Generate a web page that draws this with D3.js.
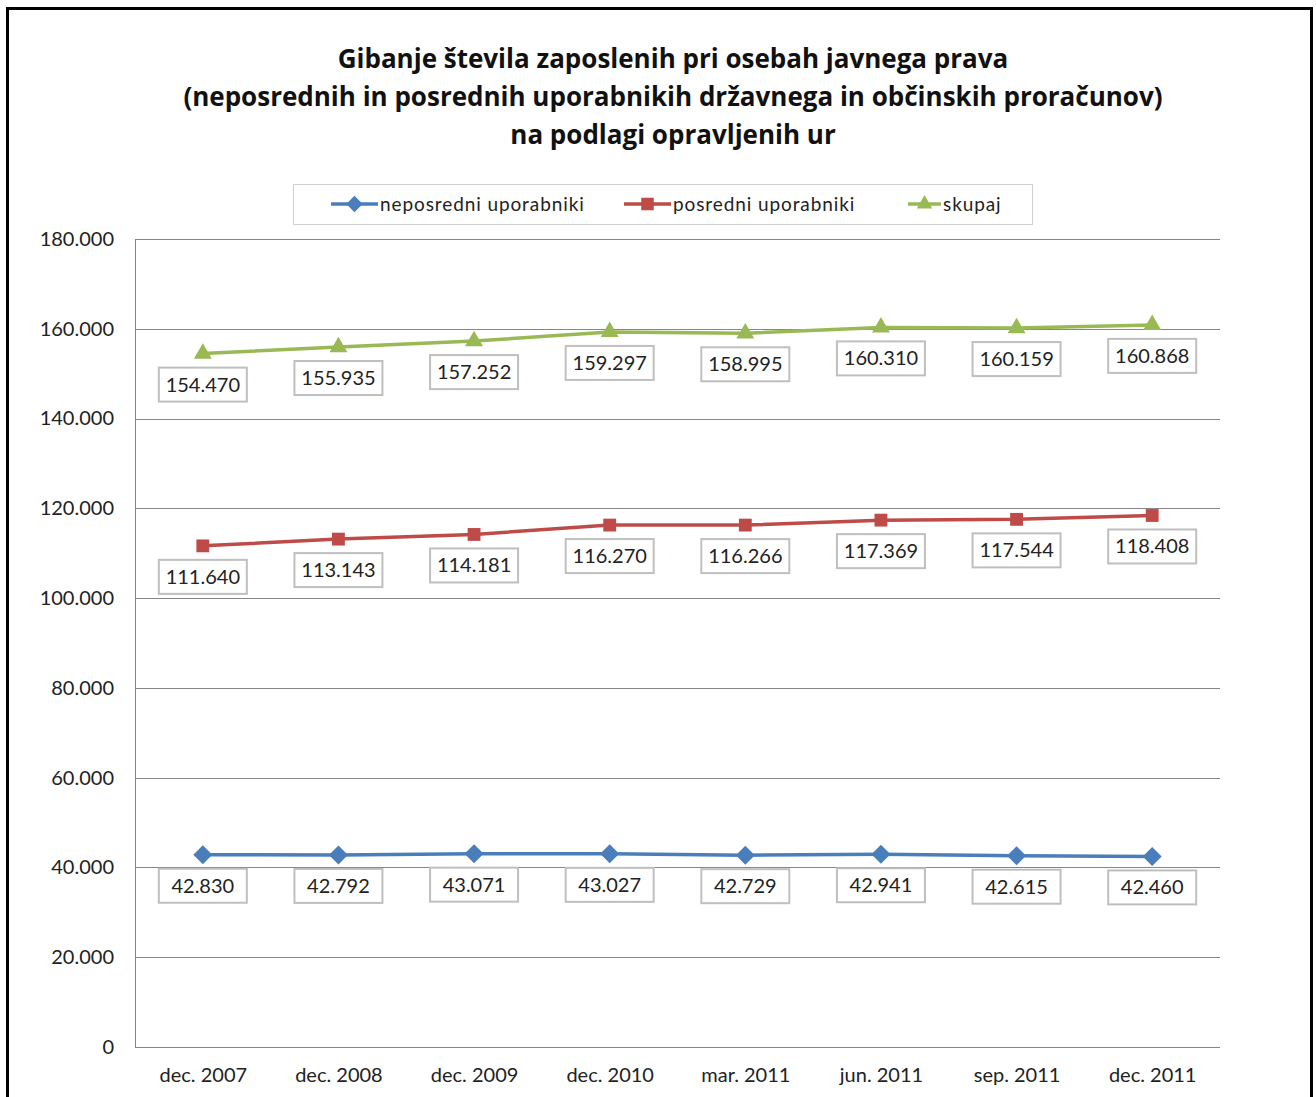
<!DOCTYPE html>
<html lang="sl">
<head>
<meta charset="utf-8">
<title>Gibanje števila zaposlenih</title>
<script src="https://cdn.jsdelivr.net/npm/d3@7"></script>
<style>
    body { margin: 0; background: #fff; }
    svg { display: block; font-family: Lato, "Open Sans", sans-serif; }
</style>
</head>
<body>
<div id="chart"></div>
<script>
// Podatki
const categories = ["dec. 2007", "dec. 2008", "dec. 2009", "dec. 2010", "mar. 2011", "jun. 2011", "sep. 2011", "dec. 2011"];
const neposredni = [42830, 42792, 43071, 43027, 42729, 42941, 42615, 42460];
const posredni = [111640, 113143, 114181, 116270, 116266, 117369, 117544, 118408];
const skupaj = [154470, 155935, 157252, 159297, 158995, 160310, 160159, 160868];
const yTicks = [0, 20000, 40000, 60000, 80000, 100000, 120000, 140000, 160000, 180000];
const titleLines = [
    "Gibanje števila zaposlenih pri osebah javnega prava",
    "(neposrednih in posrednih uporabnikih državnega in občinskih proračunov)",
    "na podlagi opravljenih ur"
];
const seriesNames = ["neposredni uporabniki", "posredni uporabniki", "skupaj"];

const ChartApp = (() => {
    const config = {
        width: 1316,
        height: 1097,
        plot: { left: 135, right: 1220, top: 239, bottom: 1047 },
        colors: ["#4a7ebb", "#be4b48", "#98b954"],
        markers: [d3.symbolDiamond2, d3.symbolSquare2, d3.symbolTriangle2],
        labelOffset: 31
    };

    // 42830 -> "42.830"
    const fmt = d3.formatLocale({ decimal: ",", thousands: ".", grouping: [3], currency: ["", "€"] }).format(",d");

    function init() {
        const svg = d3.select("#chart").append("svg")
            .attr("width", config.width)
            .attr("height", config.height);

        // okvir
        svg.append("rect")
            .attr("x", 7.5).attr("y", 8.5)
            .attr("width", 1304).attr("height", 1100)
            .attr("fill", "#fff")
            .attr("stroke", "#000")
            .attr("stroke-width", 3);

        const p = config.plot;
        const x = d3.scalePoint().domain(categories).range([p.left, p.right]).padding(0.5);
        const y = d3.scaleLinear().domain([0, 180000]).range([p.bottom, p.top]);

        // mreža
        svg.append("g").selectAll("line")
            .data(yTicks)
            .join("line")
            .attr("x1", p.left).attr("x2", p.right)
            .attr("y1", d => Math.round(y(d)) + 0.5)
            .attr("y2", d => Math.round(y(d)) + 0.5)
            .attr("stroke", "#868686");

        svg.append("line")
            .attr("x1", p.left + 0.5).attr("x2", p.left + 0.5)
            .attr("y1", p.top).attr("y2", p.bottom)
            .attr("stroke", "#868686");

        // os y
        const yAxis = svg.append("g")
            .attr("transform", `translate(${p.left},0)`)
            .call(d3.axisLeft(y).tickValues(yTicks).tickFormat(d => d === 0 ? "0" : fmt(d)).tickSize(0).tickPadding(21))
            .attr("font-family", null)
            .attr("font-size", 20);
        yAxis.select(".domain").remove();
        yAxis.selectAll("text").attr("fill", "#222");

        // os x
        const xAxis = svg.append("g")
            .attr("transform", `translate(0,${p.bottom})`)
            .call(d3.axisBottom(x).tickSize(0).tickPadding(21))
            .attr("font-family", null)
            .attr("font-size", 20);
        xAxis.select(".domain").remove();
        xAxis.selectAll("text").attr("fill", "#222");

        // naslov
        svg.append("text")
            .attr("text-anchor", "middle")
            .attr("font-family", "'Open Sans', sans-serif")
            .attr("font-size", 26)
            .attr("font-weight", "bold")
            .attr("fill", "#111")
            .selectAll("tspan")
            .data(titleLines)
            .join("tspan")
            .attr("x", 673)
            .attr("y", (d, i) => 68 + i * 38)
            .text(d => d);

        drawLegend(svg);

        const allSeries = [neposredni, posredni, skupaj];
        allSeries.forEach((values, s) => drawSeries(svg, values, s, x, y));
    }

    function drawSeries(svg, values, s, x, y) {
        const color = config.colors[s];
        const line = d3.line()
            .x((d, i) => x(categories[i]))
            .y(d => y(d));

        svg.append("path")
            .datum(values)
            .attr("d", line)
            .attr("fill", "none")
            .attr("stroke", color)
            .attr("stroke-width", 3.5);

        svg.append("g").selectAll("path")
            .data(values)
            .join("path")
            .attr("transform", (d, i) => `translate(${x(categories[i])},${y(d)})`)
            .attr("d", d3.symbol(config.markers[s], s === 1 ? 210 : 230))
            .attr("fill", color);

        // oznake vrednosti
        const labels = svg.append("g").selectAll("g")
            .data(values)
            .join("g")
            .attr("transform", (d, i) => `translate(${x(categories[i])},${y(d) + config.labelOffset})`);

        labels.append("rect")
            .attr("x", -44).attr("y", -17)
            .attr("width", 88).attr("height", 34)
            .attr("fill", "#fff")
            .attr("stroke", "#bfbfbf")
            .attr("stroke-width", 2);

        labels.append("text")
            .attr("text-anchor", "middle")
            .attr("dy", "0.35em")
            .attr("font-size", 20)
            .attr("fill", "#222")
            .text(d => fmt(d));
    }

    function drawLegend(svg) {
        const g = svg.append("g");
        g.append("rect")
            .attr("x", 293.5).attr("y", 184.5)
            .attr("width", 739).attr("height", 40)
            .attr("fill", "#fff")
            .attr("stroke", "#d0d0d0");

        const items = [
            { lx: 331, tx: 380 },
            { lx: 624, tx: 673 },
            { lx: 908, tx: 943 }
        ];
        const cy = 204;

        items.forEach((it, s) => {
            const color = config.colors[s];
            g.append("line")
                .attr("x1", it.lx).attr("x2", it.tx - 2)
                .attr("y1", cy).attr("y2", cy)
                .attr("stroke", color).attr("stroke-width", 3.5);
            g.append("path")
                .attr("transform", `translate(${(it.lx + it.tx - 2) / 2},${cy})`)
                .attr("d", d3.symbol(config.markers[s], s === 1 ? 200 : 170))
                .attr("fill", color);
            g.append("text")
                .attr("x", it.tx).attr("y", cy)
                .attr("dy", "0.35em")
                .attr("font-size", 19)
                .attr("letter-spacing", 0.9)
                .attr("fill", "#222")
                .text(seriesNames[s]);
        });
    }

    return { init };
})();

document.addEventListener("DOMContentLoaded", ChartApp.init);
</script>
</body>
</html>
